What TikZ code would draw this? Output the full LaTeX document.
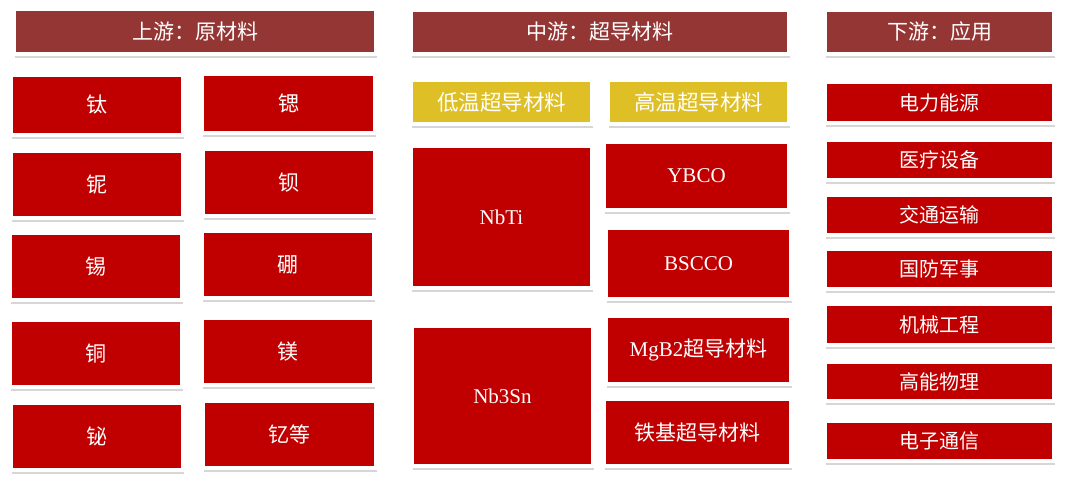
\documentclass[tikz,border=0pt]{standalone}
\usepackage{fontspec}
\setmainfont{Liberation Serif}
\newfontfamily\cjk{Noto Sans CJK SC}
\usetikzlibrary{shadows}
\definecolor{hdr}{HTML}{943634}
\definecolor{rd}{HTML}{C00000}
\definecolor{yl}{HTML}{DFBF26}
\tikzset{
  base/.style={draw=white, line width=4pt, inner sep=0pt, text=white,
    general shadow={shadow xshift=0.8pt, shadow yshift=-2.2pt, fill=black, opacity=0.10},
    drop shadow={shadow xshift=0.8pt, shadow yshift=-4pt, fill=black, opacity=0.16}},
  hdrbox/.style={base, fill=hdr, font=\fontsize{21}{25}\selectfont},
  redbox/.style={base, fill=rd, font=\fontsize{21}{25}\selectfont},
  ylbox/.style={base, fill=yl, font=\fontsize{21.5}{25}\selectfont},
  appbox/.style={base, fill=rd, font=\fontsize{20}{24}\selectfont},
}
\newcommand\bx[7]{\node[#6, minimum width={#4-#2+4}, minimum height={#5-#3+4}] (#1) at ({(#2+#4)/2},{(#3+#5)/2}) {#7};}
\begin{document}
\begin{tikzpicture}[x=1pt,y=-1pt]
\useasboundingbox (0,0) rectangle (1080,486);
% headers
\bx{h1}{16}{11}{374}{52}{hdrbox}{\cjk 上游：原材料}
\bx{h2}{413}{12}{787}{52}{hdrbox}{\cjk 中游：超导材料}
\bx{h3}{827}{12}{1052}{52}{hdrbox}{\cjk 下游：应用}
% upstream
\bx{u1}{13}{77}{181}{133}{redbox}{\cjk 钛}
\bx{u2}{204}{76}{373}{131}{redbox}{\cjk 锶}
\bx{u3}{13}{153}{181}{216}{redbox}{\cjk 铌}
\bx{u4}{205}{151}{373}{214}{redbox}{\cjk 钡}
\bx{u5}{12}{235}{180}{298}{redbox}{\cjk 锡}
\bx{u6}{204}{233}{372}{296}{redbox}{\cjk 硼}
\bx{u7}{12}{322}{180}{385}{redbox}{\cjk 铜}
\bx{u8}{204}{320}{372}{383}{redbox}{\cjk 镁}
\bx{u9}{13}{405}{181}{468}{redbox}{\cjk 铋}
\bx{u10}{205}{403}{374}{466}{redbox}{\cjk 钇等}
% midstream
\bx{m1}{413}{82}{590}{122}{ylbox}{\cjk 低温超导材料}
\bx{m2}{610}{82}{787}{122}{ylbox}{\cjk 高温超导材料}
\bx{m3}{413}{148}{590}{286}{redbox}{NbTi}
\bx{m4}{606}{144}{787}{208}{redbox}{YBCO}
\bx{m5}{608}{230}{789}{297}{redbox}{BSCCO}
\bx{m6}{414}{328}{591}{464}{redbox}{Nb3Sn}
\bx{m7}{608}{318}{789}{382}{redbox}{MgB2{\cjk 超导材料}}
\bx{m8}{606}{401}{789}{464}{redbox}{\cjk 铁基超导材料}
% downstream
\bx{d1}{827}{84}{1052}{121}{appbox}{\cjk 电力能源}
\bx{d2}{827}{142}{1052}{178}{appbox}{\cjk 医疗设备}
\bx{d3}{827}{197}{1052}{233}{appbox}{\cjk 交通运输}
\bx{d4}{827}{251}{1052}{287}{appbox}{\cjk 国防军事}
\bx{d5}{827}{306}{1052}{343}{appbox}{\cjk 机械工程}
\bx{d6}{827}{364}{1052}{399}{appbox}{\cjk 高能物理}
\bx{d7}{827}{423}{1052}{459}{appbox}{\cjk 电子通信}
\end{tikzpicture}
\end{document}
